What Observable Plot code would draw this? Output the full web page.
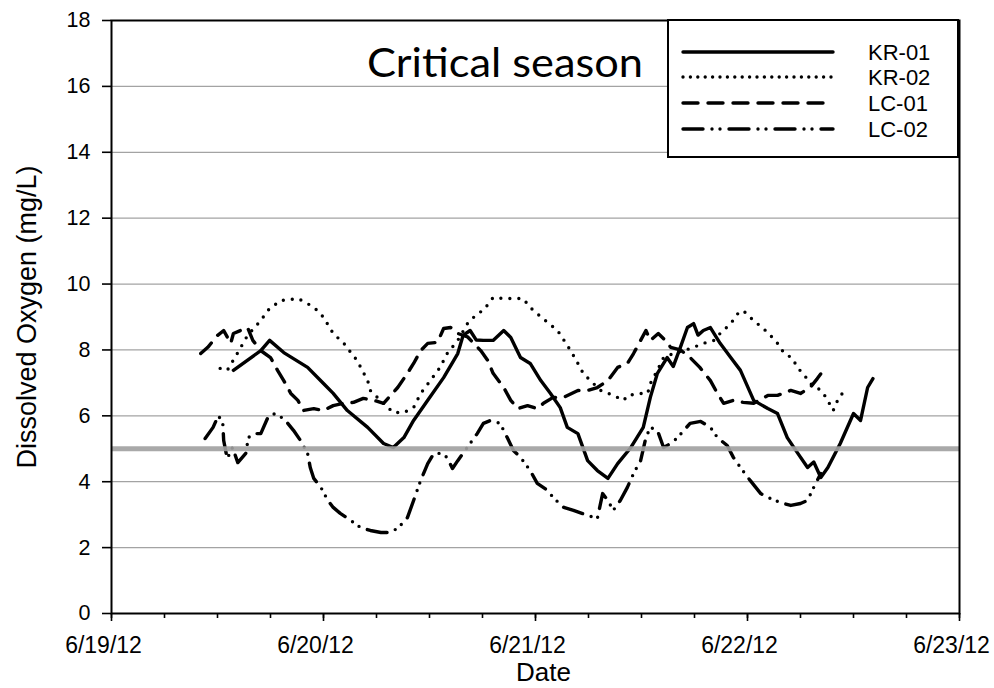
<!DOCTYPE html>
<html><head><meta charset="utf-8">
<script src="https://cdn.jsdelivr.net/npm/d3@7"></script>
<script src="https://cdn.jsdelivr.net/npm/@observablehq/plot@0.6"></script>
<style>
body{margin:0;background:#fff;}
#wrap{position:relative;width:994px;height:688px;}
#overlay{position:absolute;left:0;top:0;pointer-events:none;}
</style></head><body><div id="wrap"></div>
<script>
// ---- data (hours since 6/19/12 00:00, dissolved oxygen mg/L) ----
const startDate = Date.UTC(2012, 5, 19);
const seriesNames = ["KR-01", "KR-02", "LC-01", "LC-02"];

const kr01Hours = [13.8,16.9,17.9,19.5,22.2,24.0,25.1,26.7,29.0,30.8,31.9,33.1,34.2,35.8,37.6,39.2,39.8,40.6,41.3,42.1,43.2,44.4,45.2,46.3,47.4,48.6,49.7,50.8,51.6,52.8,53.9,55.0,56.2,57.3,58.8,60.2,61.0,61.8,62.9,63.6,64.4,65.2,65.9,66.4,67.0,67.8,68.9,70.1,71.2,72.7,74.3,75.4,76.5,77.7,78.8,79.5,80.3,81.1,82.5,84.0,84.8,85.6,86.2];
const kr01DO    = [7.38,7.98,8.29,7.92,7.47,6.98,6.68,6.16,5.65,5.16,5.04,5.34,5.86,6.47,7.16,7.89,8.44,8.59,8.30,8.29,8.29,8.59,8.38,7.77,7.59,7.07,6.68,6.25,5.65,5.46,4.64,4.34,4.10,4.55,5.04,5.65,6.56,7.29,7.77,7.50,8.08,8.68,8.80,8.45,8.59,8.68,8.20,7.77,7.38,6.47,6.22,6.07,5.34,4.86,4.43,4.60,4.13,4.43,5.16,6.07,5.86,6.86,7.13];

const kr02Hours = [12.3,13.1,14.3,15.4,16.9,17.7,19.1,21.1,22.2,23.3,24.0,25.1,26.3,27.1,27.8,29.0,29.3,30.1,30.8,31.9,33.1,34.2,35.0,36.1,37.2,38.0,39.2,40.3,41.4,42.1,43.2,44.4,46.6,47.4,48.2,49.4,50.5,51.6,52.3,52.8,53.4,54.2,55.4,56.8,58.0,58.4,59.9,60.7,61.0,61.8,62.5,63.6,64.8,65.9,67.0,68.2,68.9,70.1,70.9,71.5,72.7,73.8,74.6,75.4,76.1,77.1,77.7,78.3,79.1,79.9,80.6,81.2,81.7,82.2,82.8,83.3];
const kr02DO    = [7.44,7.38,7.92,8.44,8.89,9.20,9.50,9.56,9.41,9.20,8.99,8.50,8.20,7.92,7.68,7.07,6.77,6.56,6.38,6.10,6.10,6.25,6.68,7.07,7.47,7.89,8.29,8.80,9.10,9.20,9.59,9.56,9.56,9.29,9.10,8.83,8.59,8.14,7.83,7.59,7.29,7.07,6.77,6.62,6.47,6.62,6.68,6.68,6.98,7.38,7.77,7.89,7.98,8.08,8.20,8.29,8.50,8.80,9.10,9.20,8.89,8.65,8.44,8.20,7.92,7.74,7.44,7.29,6.98,6.86,6.68,6.41,6.16,6.47,6.71,6.68];

const lc01Hours = [10.1,10.9,12.0,12.7,13.5,13.8,14.6,15.4,16.0,16.9,18.0,18.8,19.5,20.3,21.1,21.7,22.9,24.0,25.1,26.3,27.4,28.5,29.7,30.8,31.6,32.4,33.5,34.2,35.0,35.8,36.9,37.6,38.4,39.2,40.3,41.8,42.6,43.2,44.4,45.2,46.0,47.1,48.2,48.9,50.0,51.2,52.8,53.9,55.0,56.2,57.3,58.4,59.1,59.9,60.5,61.0,61.9,62.7,63.3,64.4,65.5,66.6,67.8,68.6,69.3,70.4,71.5,72.7,74.3,75.4,76.9,78.0,79.1,79.9,80.5];
const lc01DO    = [7.89,8.08,8.44,8.59,8.20,8.50,8.59,8.68,8.29,7.98,7.77,7.38,7.07,6.68,6.47,6.16,6.22,6.16,6.31,6.38,6.41,6.53,6.47,6.38,6.62,6.86,7.29,7.59,7.98,8.20,8.23,8.65,8.68,8.50,8.40,7.98,7.68,7.29,6.86,6.47,6.22,6.31,6.22,6.38,6.56,6.56,6.77,6.77,6.86,7.07,7.47,7.59,7.89,8.29,8.59,8.29,8.50,8.29,8.08,8.00,7.77,7.47,7.07,6.68,6.38,6.47,6.41,6.38,6.62,6.62,6.77,6.68,6.86,7.13,7.35];

const lc02Hours = [10.6,11.5,12.1,12.6,12.7,13.1,13.7,14.3,15.2,15.5,16.1,16.9,17.7,18.3,19.5,20.6,21.4,22.2,22.5,22.9,23.7,24.5,25.1,25.9,27.1,28.2,29.3,30.5,31.6,32.5,33.5,34.2,35.0,35.8,36.5,37.2,38.0,38.6,39.2,39.8,40.6,41.4,42.1,42.9,44.0,44.8,45.5,46.3,47.4,48.2,49.4,50.0,51.2,52.3,53.9,55.0,55.6,56.2,56.8,57.6,58.4,59.1,59.9,60.5,61.0,61.8,62.5,63.3,64.1,64.8,65.5,66.7,67.8,68.6,69.7,70.4,71.2,72.3,73.5,74.6,75.7,76.9,78.0,78.8,79.5,80.3];
const lc02DO    = [5.31,5.65,6.01,5.77,5.25,4.70,5.04,4.58,4.86,5.34,5.46,5.46,5.95,6.07,5.92,5.56,5.25,4.86,4.43,4.10,3.83,3.43,3.22,3.04,2.82,2.61,2.52,2.46,2.46,2.61,2.91,3.43,4.04,4.55,4.86,4.86,4.74,4.40,4.64,4.86,5.16,5.46,5.77,5.86,5.77,5.34,4.95,4.74,4.34,3.95,3.73,3.52,3.22,3.13,2.98,2.88,3.64,3.43,3.13,3.43,3.83,4.25,4.64,5.34,5.65,5.56,5.04,5.16,5.34,5.56,5.77,5.83,5.65,5.34,5.10,4.74,4.43,4.04,3.64,3.49,3.37,3.28,3.34,3.43,3.83,4.25];

const yTicks = [0, 2, 4, 6, 8, 10, 12, 14, 16, 18];
const gridValues = [2, 4, 6, 8, 10, 12, 14, 16];
const dayTickLabels = ["6/19/12", "6/20/12", "6/21/12", "6/22/12", "6/23/12"];
const minorTickHours = [0, 6, 12, 18, 24, 30, 36, 42, 48, 54, 60, 66, 72, 78, 84, 90, 96];
const threshold = 5;
const annotation = "Critical season";
const xLabel = "Date";
const yLabel = "Dissolved Oxygen (mg/L)";

// ---- build table ----
const hourToDate = h => new Date(startDate + h * 3600e3);
const seriesData = {
  "KR-01": [kr01Hours, kr01DO],
  "KR-02": [kr02Hours, kr02DO],
  "LC-01": [lc01Hours, lc01DO],
  "LC-02": [lc02Hours, lc02DO]
};
const rows = [];
for (const name of seriesNames) {
  const [hs, vs] = seriesData[name];
  hs.forEach((h, i) => rows.push({series: name, date: hourToDate(h), value: vs[i]}));
}
const dayTicks = dayTickLabels.map((_, i) => hourToDate(24 * i));
const minorTicks = minorTickHours.map(hourToDate);
const fmtDay = d => dayTickLabels[Math.round((d - startDate) / 86400e3)];

const lineStyle = {
  "KR-01": {dash: null, legendDash: null},
  "KR-02": {dash: "0,9", legendDash: "0,7.4"},
  "LC-01": {dash: "15,10", legendDash: "15,10"},
  "LC-02": {dash: "20,9,0,8,0,9", legendDash: "20,9,0,8,0,9"}
};

const font = "Arial, 'Liberation Sans', sans-serif";

const chart = Plot.plot({
  width: 994,
  height: 688,
  marginLeft: 111,
  marginRight: 35,
  marginTop: 20,
  marginBottom: 75,
  style: {fontFamily: font, fontSize: "21px", color: "black", background: "white"},
  x: {type: "utc", domain: [dayTicks[0], dayTicks[dayTicks.length - 1]]},
  y: {domain: [0, 18]},
  marks: [
    Plot.ruleY(gridValues, {stroke: "#a3a3a3", strokeWidth: 1.2}),
    ...seriesNames.map(name => Plot.line(rows.filter(d => d.series === name), {
      x: "date", y: "value", stroke: "black", strokeWidth: 3.4,
      strokeDasharray: lineStyle[name].dash, strokeLinecap: "round", strokeLinejoin: "round"
    })),
    Plot.ruleY([threshold], {stroke: "#a0a0a0", strokeWidth: 5, strokeOpacity: 0.9}),
    Plot.frame({stroke: "black", strokeWidth: 2}),
    Plot.axisY({ticks: yTicks, tickSize: 9, tickPadding: 12, fontSize: 21.5, label: null, strokeWidth: 1.6}),
    Plot.axisX({ticks: minorTicks, tickSize: 5, tickFormat: () => "", label: null, strokeWidth: 1.6}),
    Plot.axisX({ticks: dayTicks, tickSize: 8, tickFormat: () => "", label: null, strokeWidth: 1.6}),
    Plot.axisX({ticks: dayTicks, tickSize: 0, tickPadding: 23, dx: -8, tickFormat: fmtDay, fontSize: 23, label: null}),
    Plot.text([xLabel], {frameAnchor: "bottom", dx: 8, dy: 49, lineAnchor: "top", fontSize: 26, text: d => d}),
    Plot.text([yLabel], {frameAnchor: "left", textAnchor: "middle", dx: -84, rotate: -90, fontSize: 27, text: d => d})
  ]
});
const wrap = document.getElementById("wrap");
wrap.appendChild(chart);

// ---- overlay: annotation and legend ----
const ov = d3.select(wrap).append("svg").attr("id", "overlay")
  .attr("width", 994).attr("height", 688);
ov.append("text").text(annotation)
  .attr("x", 367).attr("y", 77)
  .attr("font-family", "Lato, 'Open Sans', sans-serif").attr("font-size", 40)
  .attr("textLength", 276).attr("lengthAdjust", "spacingAndGlyphs")
  .attr("fill", "black");
ov.append("rect").attr("x", 668).attr("y", 20).attr("width", 290).attr("height", 137)
  .attr("fill", "white").attr("stroke", "black").attr("stroke-width", 2);
const legendRowY = [52, 77, 103, 129];
seriesNames.forEach((name, i) => {
  ov.append("line").attr("x1", 683).attr("x2", 833)
    .attr("y1", legendRowY[i]).attr("y2", legendRowY[i])
    .attr("stroke", "black").attr("stroke-width", 3.4).attr("stroke-linecap", "round")
    .attr("stroke-dasharray", lineStyle[name].legendDash);
  ov.append("text").text(name).attr("x", 868).attr("y", legendRowY[i] + 8)
    .attr("font-family", font).attr("font-size", 22).attr("fill", "black");
});
</script></body></html>
